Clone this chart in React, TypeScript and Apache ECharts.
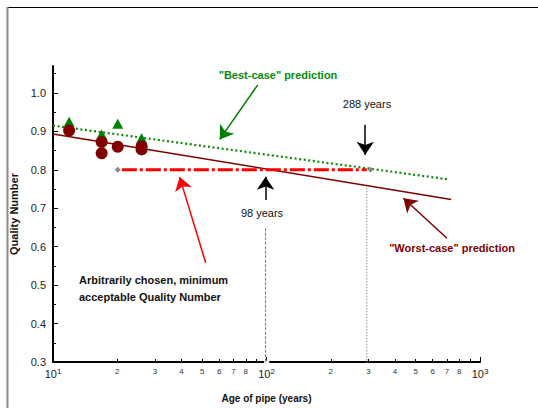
import { useEffect, useRef } from "react";
import * as echarts from "echarts";

// ---- data ----
const yMajorTicks = [0.3, 0.4, 0.5, 0.6, 0.7, 0.8, 0.9, 1.0];
const yMinorTicks = [0.35, 0.45, 0.55, 0.65, 0.75, 0.85, 0.95, 1.05];
const xDecadeTicks = [10, 100, 1000];
const xMinorTicks = [20, 30, 40, 50, 60, 70, 80, 90, 200, 300, 400, 500, 600, 700, 800, 900];
const xLabelValues = [10, 20, 30, 40, 50, 60, 70, 80, 100, 200, 300, 400, 500, 600, 700, 800, 999.999];

const circleAges = [11.9, 16.9, 16.9, 20.1, 26.0, 26.0];
const circleQuality = [0.902, 0.872, 0.843, 0.86, 0.861, 0.853];
const triangleAges = [11.9, 16.9, 20.1, 26.0];
const triangleQuality = [0.925, 0.892, 0.92, 0.882];

const bestCaseAges = [10, 713];
const bestCaseQuality = [0.915, 0.775];
const worstCaseAges = [10, 733];
const worstCaseQuality = [0.893, 0.723];

const minimumAges = [21, 295];
const minimumQuality = [0.8, 0.8];
const crossingAges = [20.1, 307];
const crossingQuality = [0.8, 0.8];

const line98Ages = [99, 99];
const line98Quality = [0.648, 0.296];
const line288Ages = [295, 295];
const line288Quality = [0.753, 0.296];

// arrows: [fromAge, fromQ, toAge, toQ]
const arrowBest = [91, 1.021, 60.4, 0.879];
const arrow288 = [290, 0.917, 290, 0.839];
const arrow98 = [99, 0.7215, 99, 0.782];
const arrowWorst = [700, 0.622, 438, 0.726];
const arrowMinimum = [51.9, 0.558, 39.2, 0.781];

const axisGapAges = [97.5, 103];

const FONT = "Liberation Sans, Arial, Helvetica, sans-serif";
const GREEN = "#0a8a0a";
const DARKRED = "#800000";
const RED = "#ff0000";

const pairs = (xs: number[], ys: number[]) => xs.map((x, i) => [x, ys[i]]);

function labelFormatter(v: number) {
  const e = Math.round(Math.log10(v));
  if (Math.abs(v / Math.pow(10, e) - 1) < 1e-4) return "{b|10}{s|" + e + "}";
  const d = Math.round(v / Math.pow(10, Math.floor(Math.log10(v) + 1e-9)));
  return "{d|" + d + "}";
}

const arrowItem = (a: number[], color: string, width: number) => ({
  coords: [
    [a[0], a[1]],
    [a[2], a[3]],
  ],
  lineStyle: { color, width },
  itemStyle: { color },
});

export default function App() {
  const ref = useRef<HTMLDivElement>(null);
  useEffect(() => {
    const chart = echarts.init(ref.current!, null, { renderer: "svg" });
    const option: any = {
      animation: false,
      backgroundColor: "#ffffff",
      textStyle: { fontFamily: FONT },
      grid: { left: 52, right: 58, top: 66, bottom: 46, containLabel: false },
      xAxis: [
        {
          type: "log",
          logBase: 10,
          min: 10,
          max: 1000,
          name: "Age of pipe (years)",
          nameLocation: "middle",
          nameGap: 31,
          nameMoveOverlap: false,
          nameTextStyle: { fontSize: 10, fontWeight: "bold", color: "#111", fontFamily: FONT },
          axisLine: { show: true, onZero: false, lineStyle: { color: "#000", width: 2 } },
          axisTick: { show: true, inside: true, length: 5, customValues: xDecadeTicks, lineStyle: { color: "#000", width: 1 } },
          splitLine: { show: false },
          minorTick: { show: false },
          axisLabel: {
            show: true,
            margin: 5,
            hideOverlap: false,
            showMaxLabel: true,
            showMinLabel: true,
            customValues: xLabelValues,
            formatter: labelFormatter,
            color: "#222",
            rich: {
              b: { fontSize: 11, lineHeight: 14, color: "#222", fontFamily: FONT },
              s: { fontSize: 8, lineHeight: 8, verticalAlign: "top", color: "#222", fontFamily: FONT },
              d: { fontSize: 8, lineHeight: 9, color: "#333", fontFamily: FONT },
            },
          },
        },
        {
          type: "log",
          logBase: 10,
          min: 10,
          max: 1000,
          position: "bottom",
          axisLine: { show: false, onZero: false },
          axisTick: { show: true, inside: true, length: 3, customValues: xMinorTicks, lineStyle: { color: "#000", width: 1 } },
          axisLabel: { show: false },
          splitLine: { show: false },
        },
      ],
      yAxis: [
        {
          type: "value",
          min: 0.3,
          max: 1.07,
          position: "left",
          name: "Quality Number",
          nameLocation: "middle",
          nameGap: 34,
          nameMoveOverlap: false,
          nameRotate: 90,
          nameTextStyle: { fontSize: 11, fontWeight: "bold", color: "#111", fontFamily: FONT },
          axisLine: { show: true, onZero: false, lineStyle: { color: "#000", width: 2 } },
          axisTick: { show: true, inside: true, length: 5, customValues: yMajorTicks, lineStyle: { color: "#000", width: 1 } },
          axisLabel: {
            show: true,
            margin: 7,
            customValues: yMajorTicks,
            formatter: (v: number) => v.toFixed(1),
            fontSize: 11,
            color: "#222",
            fontFamily: FONT,
          },
          splitLine: { show: false },
        },
        {
          type: "value",
          min: 0.3,
          max: 1.07,
          position: "left",
          axisLine: { show: false, onZero: false },
          axisTick: { show: true, inside: true, length: 3, customValues: yMinorTicks, lineStyle: { color: "#000", width: 1 } },
          axisLabel: { show: false },
          splitLine: { show: false },
        },
      ],
      series: [
        {
          name: "Best-case",
          type: "line",
          data: pairs(bestCaseAges, bestCaseQuality),
          symbol: "none",
          lineStyle: { color: GREEN, width: 2.2, type: [2, 2.6] },
          z: 3,
          silent: true,
        },
        {
          name: "Worst-case",
          type: "line",
          data: pairs(worstCaseAges, worstCaseQuality),
          symbol: "none",
          lineStyle: { color: DARKRED, width: 1.5 },
          z: 3,
          silent: true,
        },
        {
          name: "Minimum",
          type: "line",
          data: pairs(minimumAges, minimumQuality),
          symbol: "none",
          lineStyle: { color: RED, width: 3, type: [15, 3, 3, 3] },
          z: 4,
          silent: true,
        },
        {
          name: "Crossings",
          type: "scatter",
          data: pairs(crossingAges, crossingQuality),
          symbol: "diamond",
          symbolSize: 6,
          itemStyle: { color: "#8c8c8c", opacity: 1 },
          z: 5,
          silent: true,
        },
        {
          name: "98 line",
          type: "line",
          data: pairs(line98Ages, line98Quality),
          symbol: "none",
          clip: false,
          lineStyle: { color: "#777", width: 1, type: [3, 1.5] },
          z: 10,
          silent: true,
        },
        {
          name: "288 line",
          type: "line",
          data: pairs(line288Ages, line288Quality),
          symbol: "none",
          clip: false,
          lineStyle: { color: "#888", width: 1, type: [1.5, 1.5] },
          z: 10,
          silent: true,
        },
        {
          name: "Triangles",
          type: "scatter",
          data: pairs(triangleAges, triangleQuality),
          symbol: "triangle",
          symbolSize: [11, 10],
          itemStyle: { color: "#008000", opacity: 1 },
          z: 6,
          silent: true,
        },
        {
          name: "Circles",
          type: "scatter",
          data: pairs(circleAges, circleQuality),
          symbol: "circle",
          symbolSize: 12,
          itemStyle: { color: DARKRED, opacity: 1 },
          z: 7,
          silent: true,
        },
        {
          name: "Arrows",
          type: "lines",
          coordinateSystem: "cartesian2d",
          xAxisIndex: 0,
          yAxisIndex: 0,
          symbol: ["none", "arrow"],
          symbolSize: [10, 13],
          silent: true,
          z: 8,
          lineStyle: { opacity: 1, curveness: 0 },
          data: [
            arrowItem(arrowBest, "#008000", 1.5),
            arrowItem(arrow288, "#000000", 1.5),
            arrowItem(arrow98, "#000000", 1.5),
            arrowItem(arrowWorst, DARKRED, 1.5),
            arrowItem(arrowMinimum, RED, 1.5),
          ],
        },
      ],
    };
    chart.setOption(option);

    const g0 = chart.convertToPixel({ xAxisIndex: 0, yAxisIndex: 0 }, [axisGapAges[0], 0.3]) as number[];
    const g1 = chart.convertToPixel({ xAxisIndex: 0, yAxisIndex: 0 }, [axisGapAges[1], 0.3]) as number[];

    const txt = (text: string, x: number, y: number, color: string, bold: boolean, align = "center") => ({
      type: "text",
      x,
      y,
      z: 20,
      silent: true,
      style: {
        text,
        fill: color,
        fontSize: 11,
        fontWeight: bold ? "bold" : "normal",
        fontFamily: FONT,
        align,
        verticalAlign: "middle",
      },
    });

    chart.setOption({
      graphic: {
        elements: [
          { type: "line", silent: true, z: 1, shape: { x1: 7, y1: 7.5, x2: 538, y2: 7.5 }, style: { stroke: "#000", lineWidth: 1 } },
          { type: "line", silent: true, z: 1, shape: { x1: 7.5, y1: 7, x2: 7.5, y2: 408 }, style: { stroke: "#8a8a8a", lineWidth: 2 } },
          { type: "rect", silent: true, z: 5, shape: { x: g0[0], y: g0[1] - 1.5, width: g1[0] - g0[0], height: 3 }, style: { fill: "#fff" } },
          txt('"Best-case" prediction', 278, 75, GREEN, true),
          txt("288 years", 367, 104, "#111", false),
          txt("98 years", 262, 213, "#111", false),
          txt('"Worst-case" prediction', 452, 248, DARKRED, true),
          txt("Arbitrarily chosen, minimum", 79, 280, "#111", true, "left"),
          txt("acceptable Quality Number", 79, 297, "#111", true, "left"),
        ],
      },
    });
    return () => chart.dispose();
  }, []);
  return <div ref={ref} style={{ position: "absolute", left: 0, top: 0, width: 538, height: 408 }} />;
}
